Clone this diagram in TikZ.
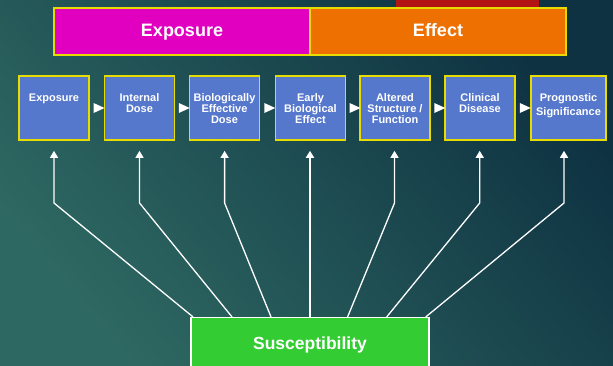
\documentclass[tikz,border=0pt]{standalone}
\usepackage{fontspec}
\setmainfont{Liberation Sans}
\usetikzlibrary{arrows.meta,shapes.geometric}

\definecolor{bgdark}{RGB}{14,50,66}
\definecolor{bglight}{RGB}{46,104,98}
\definecolor{rimyellow}{RGB}{230,220,0}
\definecolor{stageblue}{RGB}{85,119,204}
\definecolor{expomagenta}{RGB}{226,0,192}
\definecolor{effectorange}{RGB}{238,112,0}
\definecolor{redtab}{RGB}{178,20,20}
\definecolor{suscgreen}{RGB}{51,204,51}

\begin{document}
\begin{tikzpicture}[x=1pt, y=-1pt,
  band/.style={draw=rimyellow, line width=1.5pt, minimum width=256pt, minimum height=47pt,
    inner sep=0pt, text height=13pt, text depth=4pt, text=white,
    font=\bfseries\fontsize{18}{20}\selectfont},
  stage/.style={draw=rimyellow, line width=1.6pt, fill=stageblue, minimum width=70pt,
    minimum height=64pt, inner sep=0pt},
  stagetext/.style={anchor=north, align=center, inner sep=0pt, yshift=-18.5pt, text=white,
    font=\bfseries\fontsize{11}{10.7}\selectfont},
  pointer/.style={isosceles triangle, isosceles triangle stretches, fill=white,
    minimum width=10pt, minimum height=11pt, inner sep=0pt},
  suscbox/.style={draw=white, line width=1.2pt, fill=suscgreen, minimum width=238pt,
    minimum height=55pt, inner sep=0pt, text=white, font=\bfseries\fontsize{17.5}{20}\selectfont},
  conn/.style={white, line width=1.3pt, -{Triangle[width=8pt,length=7pt]}, shorten >=10pt}]

% background
\useasboundingbox (0,0) rectangle (613,365);
\shade[top color=bgdark, bottom color=bglight, shading angle=-50] (0,0) rectangle (613,365);

% exposure / effect band
\fill[redtab] (396,0) rectangle (539,8);
\node[band, fill=expomagenta] (expo) at (182,31.5) {Exposure};
\node[band, fill=effectorange] (effect) at (438,31.5) {Effect};

% stages
\node[stage] (b1) at (54,108) {};
\node[stage] (b2) at (139.5,108) {};
\node[stage] (b3) at (224.5,108) {};
\node[stage] (b4) at (310.5,108) {};
\node[stage] (b5) at (395,108) {};
\node[stage] (b6) at (480,108) {};
\node[stage, minimum width=75pt] (b7) at (568.5,108) {};

\node[stagetext] (t1) at (b1.north) {Exposure};
\node[stagetext] (t2) at (b2.north) {Internal\\Dose};
\node[stagetext] (t3) at (b3.north) {Biologically\\Effective\\Dose};
\node[stagetext] (t4) at (b4.north) {Early\\Biological\\Effect};
\node[stagetext] (t5) at (b5.north) {Altered\\Structure /\\Function};
\node[stagetext] (t6) at (b6.north) {Clinical\\Disease};
\node[stagetext] (t7) at (b7.north) {Prognostic\\[3pt]Significance};

\foreach \a/\b in {1/2, 2/3, 3/4, 4/5, 5/6, 6/7}
  \path (b\a.east) -- (b\b.west) node[pointer, midway] (p\a) {};

% susceptibility
\node[suscbox] (susc) at (310,345) {Susceptibility};

\foreach \i/\x/\s in {1/54/-117, 2/139.5/-78, 3/224.6/-39, 5/394.5/37.6, 6/479.7/76.7, 7/564/115.8}
{
  \coordinate (k\i) at (\x,203);
  \draw[conn] ([xshift=\s pt]susc.north) -- (k\i) -- (k\i |- b\i.south);
}
\draw[conn, line width=2.2pt] (susc.north) -- (b4.south -| susc.north);

\end{tikzpicture}
\end{document}
